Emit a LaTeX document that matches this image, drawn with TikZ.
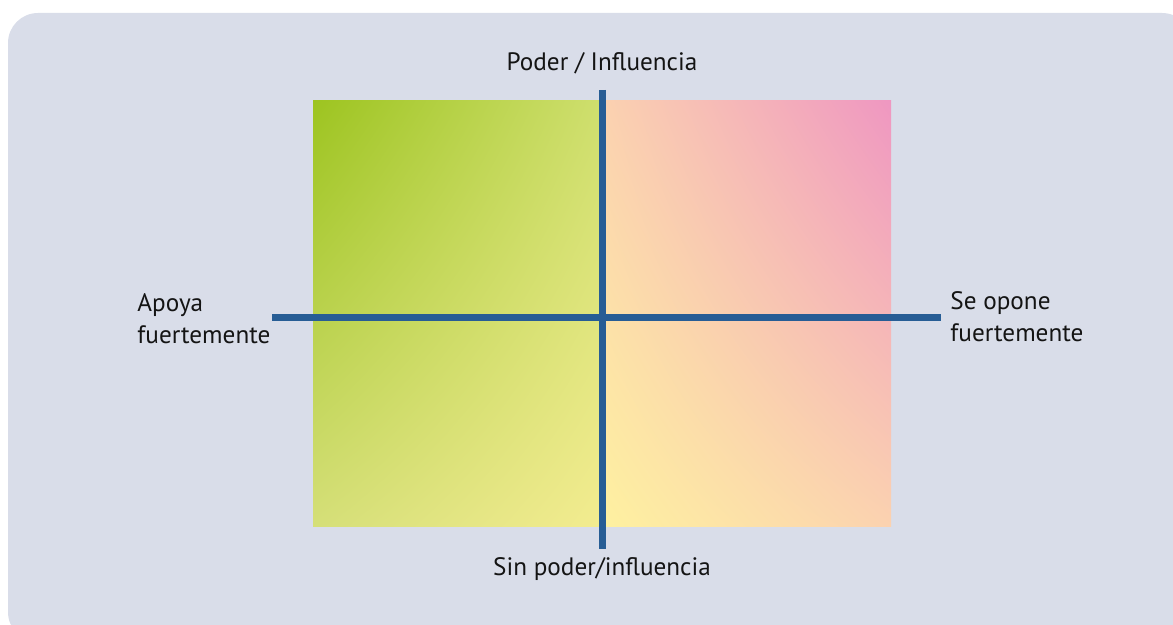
\documentclass[tikz,border=0pt]{standalone}
\usepackage{fontspec}
\setmainfont{PT Sans}
\usetikzlibrary{shadings}
\definecolor{fondo}{HTML}{D9DDE9}
\definecolor{ejeazul}{HTML}{275D95}
\definecolor{verde}{HTML}{9DC420}
\definecolor{verdeclaro}{HTML}{CFDF6E}
\definecolor{verdebajo}{HTML}{D5DF78}
\definecolor{amarillo}{HTML}{F3EC90}
\definecolor{melocoton}{HTML}{FBD2B0}
\definecolor{rosa}{HTML}{EF97C1}
\definecolor{amarillorosa}{HTML}{FEF1A0}

\begin{document}
\begin{tikzpicture}[x=0.5pt,y=-0.5pt,
eje/.style={line width=3.5pt, ejeazul},
texto/.style={font=\fontsize{12.6}{16}\selectfont, text=black!92, inner sep=0pt},
]
\useasboundingbox (0,0) rectangle (1173,625);

% fondo
\fill[fondo, rounded corners=15pt] (8,13) rectangle (1192,642);

% cuadrantes
\shade[upper left=verde, upper right=verdeclaro, lower left=verdebajo, lower right=amarillo]
  (313,101) rectangle (602,527);
\shade[upper left=melocoton, upper right=rosa, lower left=amarillorosa, lower right=melocoton]
  (602,101) rectangle (891,527);

\coordinate (arriba) at (602,90);
\coordinate (abajo) at (602,549);
\coordinate (izq) at (272,318);
\coordinate (der) at (941,318);

\draw[eje] (izq) -- (der);
\draw[eje] (arriba) -- (abajo);

\node[texto, anchor=base] (poder) at (602,71) {Poder / Influencia};
\node[texto, anchor=base] (sinpoder) at (602,575) {Sin poder/influencia};
\node[texto, anchor=base west, align=left] (apoya) at (137,344) {Apoya\\fuertemente};
\node[texto, anchor=base west, align=left] (opone) at (950,342) {Se opone\\fuertemente};

\end{tikzpicture}
\end{document}
